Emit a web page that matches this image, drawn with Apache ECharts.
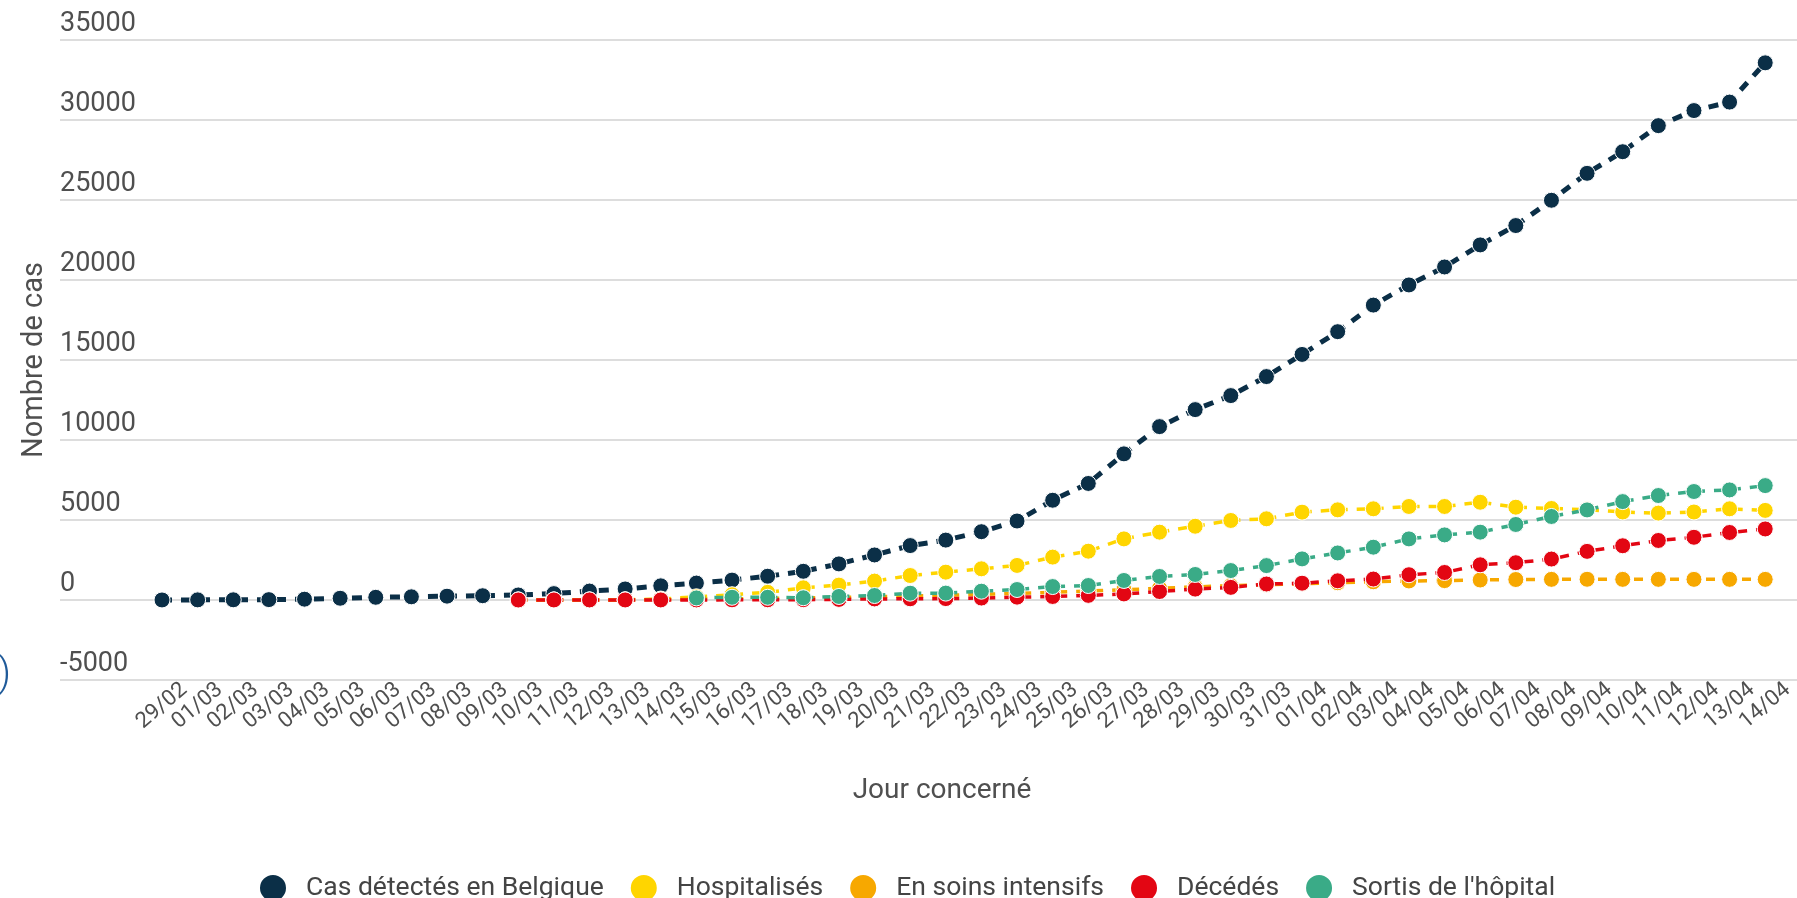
<!DOCTYPE html>
<html>
<head>
<meta charset="utf-8">
<script src="https://cdn.jsdelivr.net/npm/echarts@6/dist/echarts.min.js"></script>
<style>
  html, body { margin: 0; padding: 0; background: #fff; }
  #chart { width: 1797px; height: 898px; }
</style>
</head>
<body>
<div id="chart"></div>
<script>
const dates = ['29/02','01/03','02/03','03/03','04/03','05/03','06/03','07/03','08/03','09/03','10/03','11/03','12/03','13/03','14/03','15/03','16/03','17/03','18/03','19/03','20/03','21/03','22/03','23/03','24/03','25/03','26/03','27/03','28/03','29/03','30/03','31/03','01/04','02/04','03/04','04/04','05/04','06/04','07/04','08/04','09/04','10/04','11/04','12/04','13/04','14/04'];

const yTicks = { min: -5000, max: 35000, interval: 5000 };

const casDetectes = [2,8,13,23,50,109,169,200,239,267,314,399,559,689,886,1058,1243,1486,1795,2257,2815,3401,3743,4269,4937,6235,7284,9134,10836,11899,12775,13964,15348,16770,18431,19691,20814,22194,23403,24983,26667,28018,29647,30589,31119,33573];

// from 10/03
const hospStart = '10/03';
const hospitalises = [0,0,0,10,60,200,330,480,760,930,1180,1530,1740,1950,2160,2680,3050,3820,4240,4610,4970,5075,5490,5635,5700,5845,5845,6110,5800,5720,5650,5500,5430,5500,5700,5600];

// from 10/03
const siStart = '10/03';
const soinsIntensifs = [0,0,0,5,30,50,70,100,130,165,200,250,300,350,420,480,560,640,730,820,900,960,1020,1080,1140,1190,1210,1250,1280,1290,1295,1290,1290,1290,1290,1290];

// from 10/03
const decStart = '10/03';
const decedes = [0,3,3,3,4,5,10,14,21,37,67,75,88,122,178,220,289,380,530,680,790,1000,1050,1200,1310,1580,1720,2200,2330,2560,3040,3390,3720,3920,4220,4440];

// from 15/03
const sortisStart = '15/03';
const sortis = [130,170,170,140,220,280,425,430,550,655,840,905,1220,1470,1595,1840,2150,2570,2940,3300,3820,4070,4240,4720,5220,5630,6150,6530,6780,6880,7150];

function pad(start, arr) {
  const idx = dates.indexOf(start);
  const out = new Array(idx).fill(null).concat(arr);
  while (out.length < dates.length) out.push(null);
  return out;
}

const colors = {
  cas: '#0b2f47',
  hosp: '#ffd500',
  si: '#f7a800',
  dec: '#e30613',
  sortis: '#3aab87'
};

function mkSeries(name, data, color, width, dash) {
  return {
    name: name,
    type: 'line',
    xAxisIndex: 0,
    yAxisIndex: 1,
    data: data,
    symbol: 'circle',
    symbolSize: 16,
    showSymbol: true,
    connectNulls: false,
    itemStyle: { color: color, borderColor: '#ffffff', borderWidth: 1 },
    lineStyle: { color: color, width: width, type: dash },
    emphasis: { disabled: true }
  };
}

const chart = echarts.init(document.getElementById('chart'), null, { renderer: 'canvas' });
const textColor = '#4f4f4f';
const font = 'Roboto, "Noto Sans", sans-serif';

chart.setOption({
  animation: false,
  backgroundColor: '#ffffff',
  textStyle: { fontFamily: font },
  grid: [
    { left: 60, right: 0, top: 40, bottom: 218 },
    { left: 162, right: 9, top: 40, bottom: 218 }
  ],
  xAxis: [
    {
      gridIndex: 1,
      type: 'category',
      data: dates,
      boundaryGap: false,
      axisLine: { show: false },
      axisTick: { show: false },
      axisLabel: {
        rotate: 40, interval: 0, fontSize: 22, color: textColor, margin: 26,
        align: 'center', verticalAlign: 'middle', fontFamily: font
      }
    },
    {
      gridIndex: 0,
      type: 'category',
      data: dates,
      show: false
    }
  ],
  yAxis: [
    {
      gridIndex: 0,
      type: 'value',
      min: yTicks.min, max: yTicks.max, interval: yTicks.interval,
      axisLine: { show: false },
      axisTick: { show: false },
      splitLine: { lineStyle: { color: '#dddddd', width: 2 } },
      axisLabel: {
        inside: true, margin: 0, verticalAlign: 'bottom', align: 'left',
        padding: [0, 0, 2, 0], fontSize: 27, color: textColor, fontFamily: font,
        formatter: function (v) { return String(v); }
      },
      name: 'Nombre de cas',
      nameLocation: 'middle',
      nameGap: 10,
      nameTextStyle: { fontSize: 29, color: textColor, fontFamily: font }
    },
    {
      gridIndex: 1,
      type: 'value',
      min: yTicks.min, max: yTicks.max, interval: yTicks.interval,
      show: false,
      splitLine: { show: false }
    }
  ],
  legend: {
    left: 253,
    top: 868,
    icon: 'circle',
    itemWidth: 28,
    itemHeight: 28,
    itemGap: 25,
    textStyle: { fontSize: 26.5, color: '#444444', fontFamily: font, padding: [0, 0, 0, 14] },
    data: ['Cas détectés en Belgique', 'Hospitalisés', 'En soins intensifs', 'Décédés', "Sortis de l'hôpital"]
  },
  graphic: [
    {
      type: 'text', x: 942, y: 791,
      style: { text: 'Jour concerné', textAlign: 'center', textVerticalAlign: 'middle', fontSize: 28, fill: textColor, fontFamily: font }
    },
    {
      type: 'text', x: -2, y: 676,
      style: { text: ')', textAlign: 'left', textVerticalAlign: 'middle', fontSize: 40, fill: '#1f5a99', fontFamily: font, fontWeight: 300 }
    }
  ],
  series: [
    mkSeries('Cas détectés en Belgique', casDetectes, colors.cas, 5, [10, 9]),
    mkSeries('Hospitalisés', pad(hospStart, hospitalises), colors.hosp, 3.5, [9, 9]),
    mkSeries('En soins intensifs', pad(siStart, soinsIntensifs), colors.si, 3.5, [9, 9]),
    mkSeries('Décédés', pad(decStart, decedes), colors.dec, 3.5, [9, 9]),
    mkSeries("Sortis de l'hôpital", pad(sortisStart, sortis), colors.sortis, 3.5, [9, 9])
  ]
});
</script>
</body>
</html>
